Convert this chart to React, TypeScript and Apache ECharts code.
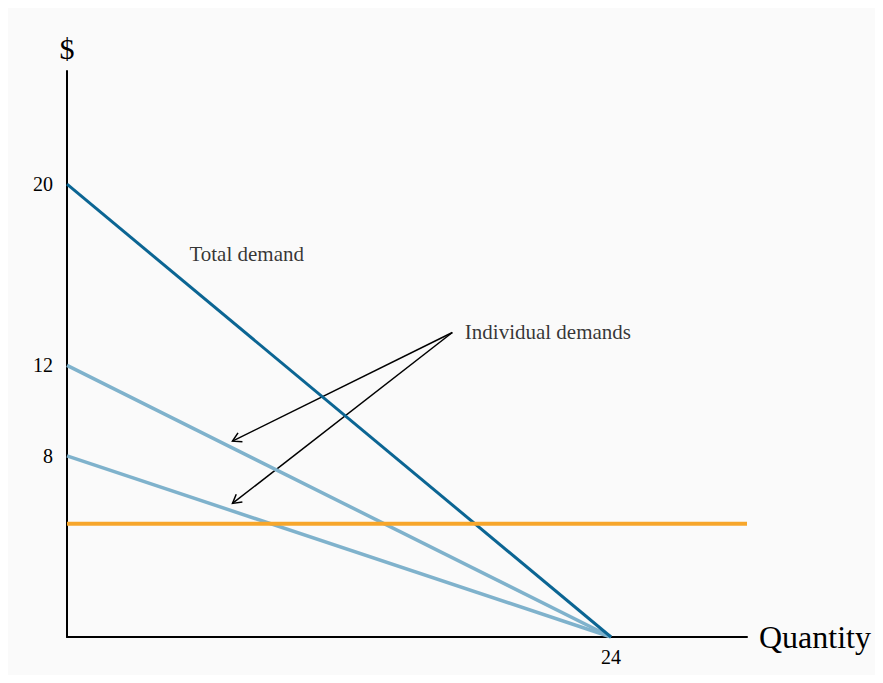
import React, { useEffect, useRef } from "react";
import * as echarts from "echarts";

const totalDemand: number[][] = [[0, 20], [24, 0]];
const individualHigh: number[][] = [[0, 12], [24, 0]];
const individualLow: number[][] = [[0, 8], [24, 0]];
const priceLine: number[][] = [[0, 5], [30, 5]];
const arrowSegments: number[][] = [
  [17, 13.45, 7.3, 8.65],
  [17, 13.45, 7.3, 5.9],
];
const annotations: { value: number[]; text: string }[] = [
  { value: [5.4, 16.9], text: "Total demand" },
  { value: [17.55, 13.45], text: "Individual demands" },
];
const yTickLabels = [8, 12, 20];
const xTickLabels = [24];

const FONT = "'Liberation Serif', 'Times New Roman', serif";

export default function App() {
  const ref = useRef<HTMLDivElement>(null);
  useEffect(() => {
    if (!ref.current) return;
    const chart = echarts.init(ref.current, null, { renderer: "svg" });
    chart.setOption({
      animation: false,
      backgroundColor: "#fafafa",
      textStyle: { fontFamily: FONT },
      grid: { left: 59, top: 63, width: 680, height: 566 },
      xAxis: {
        type: "value",
        min: 0,
        max: 30,
        interval: 6,
        name: "Quantity",
        nameLocation: "end",
        nameGap: 12,
        nameTextStyle: { fontFamily: FONT, fontSize: 32, color: "#000", verticalAlign: "middle", align: "left" },
        axisLine: { lineStyle: { color: "#000", width: 2 } },
        axisTick: { show: false },
        splitLine: { show: false },
        axisLabel: {
          fontFamily: FONT,
          fontSize: 20,
          color: "#000",
          margin: 10,
          formatter: (v: number) => (xTickLabels.includes(v) ? String(v) : ""),
        },
      },
      yAxis: {
        type: "value",
        min: 0,
        max: 25,
        interval: 4,
        name: "$",
        nameLocation: "end",
        nameGap: 23,
        nameTextStyle: { fontFamily: FONT, fontSize: 30, color: "#000", verticalAlign: "middle", align: "center" },
        axisLine: { lineStyle: { color: "#000", width: 2 } },
        axisTick: { show: false },
        splitLine: { show: false },
        axisLabel: {
          fontFamily: FONT,
          fontSize: 20,
          color: "#000",
          margin: 14,
          formatter: (v: number) => (yTickLabels.includes(v) ? String(v) : ""),
        },
      },
      series: [
        {
          type: "line",
          data: individualHigh,
          symbol: "none",
          lineStyle: { color: "#7fb2cc", width: 3.5 },
        },
        {
          type: "line",
          data: individualLow,
          symbol: "none",
          lineStyle: { color: "#7fb2cc", width: 3.5 },
        },
        {
          type: "line",
          data: totalDemand,
          symbol: "none",
          lineStyle: { color: "#0b6593", width: 3 },
        },
        {
          type: "line",
          data: priceLine,
          symbol: "none",
          lineStyle: { color: "#f7a62b", width: 4 },
        },
        {
          type: "custom",
          data: arrowSegments,
          encode: { x: [0, 2], y: [1, 3] },
          renderItem: (params: any, api: any) => {
            const p1 = api.coord([api.value(0), api.value(1)]);
            const p2 = api.coord([api.value(2), api.value(3)]);
            const ang = Math.atan2(p1[1] - p2[1], p1[0] - p2[0]);
            const L = 10;
            const spread = Math.PI / 6;
            const a1 = [p2[0] + L * Math.cos(ang + spread), p2[1] + L * Math.sin(ang + spread)];
            const a2 = [p2[0] + L * Math.cos(ang - spread), p2[1] + L * Math.sin(ang - spread)];
            const style = { stroke: "#000", lineWidth: 1.5, fill: null };
            return {
              type: "group",
              children: [
                { type: "line", shape: { x1: p1[0], y1: p1[1], x2: p2[0], y2: p2[1] }, style },
                { type: "polyline", shape: { points: [a1, p2, a2] }, style },
              ],
            };
          },
        },
        {
          type: "scatter",
          symbolSize: 0,
          data: annotations.map((a) => ({ value: a.value, name: a.text })),
          label: {
            show: true,
            position: "right",
            distance: 0,
            formatter: (p: any) => p.name,
            fontFamily: FONT,
            fontSize: 21,
            color: "#000",
          },
        },
      ],
    });
    return () => chart.dispose();
  }, []);
  return <div ref={ref} style={{ width: 867, height: 667 }} />;
}
